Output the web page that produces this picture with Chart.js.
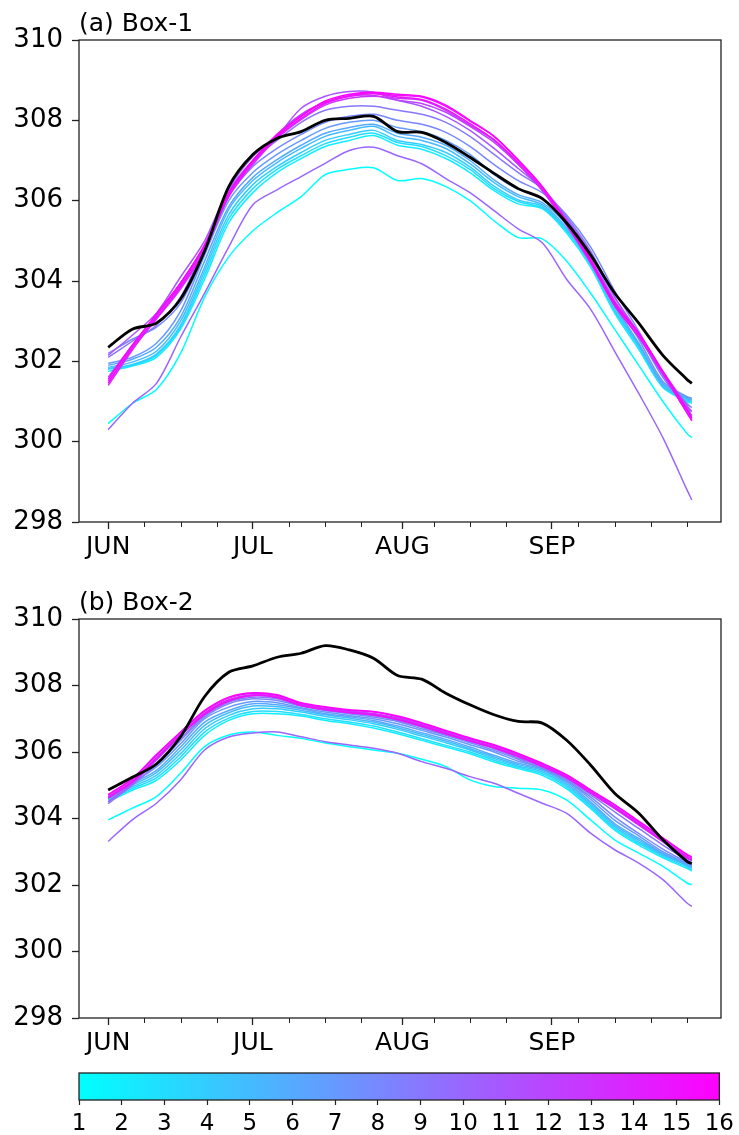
<!DOCTYPE html>
<html>
<head>
<meta charset="utf-8">
<script src="https://cdn.jsdelivr.net/npm/chart.js@4.4.1/dist/chart.umd.min.js"></script>
<style>
  html, body { margin: 0; padding: 0; background: #fff; }
  body { width: 739px; height: 1135px; position: relative; overflow: hidden; }
  canvas { position: absolute; left: 0; }
</style>
</head>
<body>
<canvas id="boxA" width="739" height="570" style="top:0px"></canvas>
<canvas id="boxB" width="739" height="487" style="top:579px"></canvas>
<canvas id="cbar" width="739" height="69" style="top:1066px"></canvas>
<script>
// 日付 (6/1 = 0)
const days = [0, 5, 10, 15, 20, 25, 30, 35, 40, 45, 50, 55, 60, 65, 70, 75, 80, 85, 90, 95, 100, 105, 110, 115, 120, 121];
const monthTickDays = [0, 30, 61, 92];
const monthLabels = ['JUN', 'JUL', 'AUG', 'SEP'];
const minorTickDays = [7.5, 15, 22.5, 37.5, 45, 52.5, 67.5, 75, 82.5, 97.5, 105, 112.5, 120];
const yTicks = [298, 300, 302, 304, 306, 308, 310];
const memberIds = [1, 2, 3, 4, 5, 6, 7, 8, 9, 10, 11, 12, 13, 14, 15, 16];

// (a) Box-1
const boxA_obs = [302.35, 302.8, 302.95, 303.55, 304.75, 306.35, 307.15, 307.55, 307.72, 308.0, 308.05, 308.1, 307.72, 307.7, 307.45, 307.08, 306.68, 306.3, 306.05, 305.45, 304.65, 303.7, 302.95, 302.15, 301.55, 301.45];
const boxA_m01 = [300.45, 300.95, 301.3, 302.2, 303.6, 304.6, 305.25, 305.7, 306.1, 306.65, 306.78, 306.82, 306.5, 306.55, 306.35, 306.0, 305.5, 305.08, 305.05, 304.5, 303.7, 302.8, 301.9, 301.0, 300.2, 300.1];
const boxA_m02 = [301.75, 301.88, 302.1, 302.8, 304.05, 305.45, 306.2, 306.7, 307.05, 307.35, 307.5, 307.62, 307.38, 307.28, 307.05, 306.7, 306.25, 305.92, 305.8, 305.2, 304.35, 303.2, 302.3, 301.35, 301.0, 300.95];
const boxA_m03 = [301.8, 301.9, 302.15, 302.85, 304.15, 305.55, 306.3, 306.78, 307.12, 307.42, 307.58, 307.68, 307.45, 307.35, 307.12, 306.78, 306.3, 305.98, 305.82, 305.25, 304.4, 303.25, 302.35, 301.38, 301.02, 300.98];
const boxA_m04 = [301.82, 301.92, 302.18, 302.9, 304.25, 305.65, 306.4, 306.85, 307.2, 307.5, 307.65, 307.75, 307.5, 307.4, 307.2, 306.84, 306.36, 306.02, 305.86, 305.28, 304.42, 303.28, 302.38, 301.42, 301.05, 301.0];
const boxA_m05 = [301.85, 301.98, 302.25, 303.0, 304.35, 305.78, 306.5, 306.95, 307.3, 307.6, 307.75, 307.85, 307.6, 307.5, 307.3, 306.92, 306.45, 306.1, 305.9, 305.33, 304.5, 303.35, 302.42, 301.38, 301.08, 301.03];
const boxA_m06 = [301.9, 302.05, 302.35, 303.1, 304.5, 305.85, 306.58, 307.02, 307.38, 307.68, 307.82, 307.9, 307.68, 307.58, 307.38, 307.0, 306.52, 306.15, 305.95, 305.4, 304.55, 303.4, 302.45, 301.45, 301.1, 301.05];
const boxA_m07 = [301.95, 302.1, 302.45, 303.25, 304.65, 306.0, 306.7, 307.15, 307.5, 307.8, 307.95, 308.0, 307.82, 307.72, 307.5, 307.15, 306.65, 306.28, 306.05, 305.5, 304.65, 303.5, 302.55, 301.5, 301.12, 301.08];
const boxA_m08 = [302.2, 302.55, 302.85, 303.45, 304.7, 306.1, 306.85, 307.3, 307.65, 307.95, 308.1, 308.15, 308.0, 307.9, 307.7, 307.35, 306.9, 306.5, 306.2, 305.65, 304.85, 303.75, 302.75, 301.65, 300.95, 300.85];
const boxA_m09 = [302.1, 302.5, 302.9, 303.6, 304.85, 306.25, 307.0, 307.5, 307.95, 308.25, 308.35, 308.35, 308.25, 308.15, 307.95, 307.6, 307.15, 306.7, 306.3, 305.6, 304.75, 303.6, 302.65, 301.6, 300.85, 300.75];
const boxA_m10 = [300.3, 300.95, 301.45, 302.6, 303.7, 304.85, 305.9, 306.27, 306.6, 306.93, 307.25, 307.33, 307.12, 306.92, 306.55, 306.2, 305.75, 305.3, 304.95, 304.05, 303.3, 302.25, 301.2, 300.1, 298.8, 298.55];
const boxA_m11 = [302.15, 302.65, 303.2, 304.1, 305.0, 306.3, 307.1, 307.6, 308.3, 308.6, 308.72, 308.7, 308.5, 308.35, 308.1, 307.75, 307.3, 306.8, 306.3, 305.55, 304.7, 303.6, 302.7, 301.75, 300.9, 300.75];
const boxA_m12 = [301.6, 302.4, 303.15, 303.95, 304.9, 306.2, 307.0, 307.65, 308.15, 308.45, 308.6, 308.62, 308.5, 308.42, 308.2, 307.85, 307.45, 306.9, 306.25, 305.45, 304.55, 303.5, 302.7, 301.75, 300.85, 300.65];
const boxA_m13 = [301.5, 302.3, 303.05, 303.8, 304.75, 306.1, 306.9, 307.55, 308.02, 308.38, 308.55, 308.6, 308.55, 308.5, 308.25, 307.88, 307.5, 306.92, 306.25, 305.4, 304.45, 303.38, 302.6, 301.68, 300.72, 300.55];
const boxA_m14 = [301.4, 302.28, 303.12, 303.9, 304.85, 306.18, 307.0, 307.65, 308.12, 308.45, 308.62, 308.68, 308.62, 308.58, 308.35, 307.98, 307.6, 307.02, 306.35, 305.5, 304.55, 303.45, 302.68, 301.72, 300.78, 300.58];
const boxA_m15 = [301.45, 302.35, 303.08, 303.85, 304.78, 306.12, 306.95, 307.58, 308.05, 308.42, 308.6, 308.66, 308.58, 308.52, 308.28, 307.92, 307.52, 306.95, 306.3, 305.42, 304.48, 303.4, 302.62, 301.7, 300.72, 300.52];
const boxA_m16 = [301.55, 302.4, 303.18, 303.95, 304.9, 306.2, 307.0, 307.62, 308.1, 308.48, 308.65, 308.7, 308.65, 308.6, 308.38, 308.0, 307.6, 307.0, 306.35, 305.48, 304.52, 303.45, 302.7, 301.75, 300.8, 300.6];

// (b) Box-2
const boxB_obs = [304.86, 305.24, 305.64, 306.46, 307.67, 308.4, 308.59, 308.85, 308.97, 309.2, 309.07, 308.82, 308.3, 308.19, 307.77, 307.42, 307.12, 306.92, 306.87, 306.36, 305.61, 304.76, 304.16, 303.36, 302.71, 302.64];
const boxB_m01 = [303.96, 304.31, 304.66, 305.36, 306.16, 306.51, 306.6, 306.5, 306.41, 306.27, 306.16, 306.06, 305.96, 305.78, 305.56, 305.16, 304.96, 304.91, 304.86, 304.56, 303.96, 303.36, 302.96, 302.56, 302.06, 302.01];
const boxB_m02 = [304.5, 304.85, 305.15, 305.75, 306.5, 306.95, 307.15, 307.15, 307.08, 306.95, 306.85, 306.72, 306.55, 306.35, 306.15, 305.95, 305.7, 305.5, 305.3, 304.9, 304.3, 303.65, 303.2, 302.82, 302.5, 302.42];
const boxB_m03 = [304.55, 304.9, 305.22, 305.85, 306.6, 307.02, 307.22, 307.22, 307.13, 307.0, 306.9, 306.78, 306.6, 306.4, 306.2, 306.0, 305.75, 305.54, 305.35, 304.95, 304.35, 303.7, 303.25, 302.86, 302.54, 302.46];
const boxB_m04 = [304.58, 304.95, 305.3, 305.95, 306.7, 307.1, 307.3, 307.3, 307.2, 307.07, 306.97, 306.85, 306.68, 306.48, 306.28, 306.06, 305.8, 305.58, 305.4, 305.0, 304.4, 303.75, 303.3, 302.9, 302.58, 302.5];
const boxB_m05 = [304.6, 305.0, 305.38, 306.05, 306.8, 307.18, 307.38, 307.36, 307.25, 307.12, 307.02, 306.9, 306.73, 306.53, 306.33, 306.1, 305.85, 305.62, 305.45, 305.05, 304.45, 303.8, 303.35, 302.92, 302.6, 302.52];
const boxB_m06 = [304.62, 305.05, 305.45, 306.15, 306.9, 307.25, 307.45, 307.42, 307.3, 307.15, 307.06, 306.95, 306.78, 306.58, 306.38, 306.15, 305.9, 305.66, 305.48, 305.1, 304.5, 303.85, 303.4, 302.95, 302.62, 302.55];
const boxB_m07 = [304.65, 305.08, 305.55, 306.25, 307.0, 307.35, 307.52, 307.48, 307.33, 307.2, 307.1, 307.0, 306.85, 306.65, 306.45, 306.22, 306.0, 305.72, 305.52, 305.15, 304.58, 303.95, 303.48, 303.0, 302.65, 302.58];
const boxB_m08 = [304.6, 305.05, 305.6, 306.35, 307.05, 307.45, 307.6, 307.55, 307.38, 307.25, 307.15, 307.05, 306.92, 306.7, 306.5, 306.28, 306.05, 305.78, 305.5, 305.15, 304.65, 304.05, 303.55, 303.08, 302.68, 302.6];
const boxB_m09 = [304.45, 305.0, 305.65, 306.4, 307.1, 307.5, 307.65, 307.6, 307.4, 307.28, 307.18, 307.1, 306.95, 306.75, 306.52, 306.32, 306.1, 305.82, 305.55, 305.2, 304.72, 304.2, 303.7, 303.2, 302.75, 302.68];
const boxB_m10 = [303.31, 303.96, 304.46, 305.16, 306.06, 306.45, 306.57, 306.6, 306.46, 306.31, 306.21, 306.11, 305.96, 305.71, 305.51, 305.26, 305.06, 304.76, 304.46, 304.16, 303.56, 303.06, 302.66, 302.16, 301.46, 301.36];
const boxB_m11 = [304.5, 305.05, 305.75, 306.5, 307.15, 307.55, 307.7, 307.65, 307.45, 307.3, 307.22, 307.15, 307.02, 306.82, 306.6, 306.4, 306.2, 305.92, 305.62, 305.3, 304.85, 304.35, 303.85, 303.35, 302.85, 302.78];
const boxB_m12 = [304.62, 305.1, 305.8, 306.5, 307.12, 307.52, 307.7, 307.64, 307.4, 307.26, 307.18, 307.1, 306.98, 306.76, 306.55, 306.33, 306.12, 305.86, 305.56, 305.22, 304.76, 304.3, 303.8, 303.3, 302.8, 302.73];
const boxB_m13 = [304.66, 305.13, 305.84, 306.53, 307.17, 307.57, 307.72, 307.67, 307.42, 307.3, 307.21, 307.15, 307.01, 306.8, 306.57, 306.36, 306.16, 305.9, 305.6, 305.26, 304.8, 304.35, 303.85, 303.35, 302.85, 302.78];
const boxB_m14 = [304.7, 305.18, 305.9, 306.58, 307.22, 307.62, 307.76, 307.7, 307.46, 307.34, 307.25, 307.2, 307.06, 306.85, 306.62, 306.4, 306.2, 305.94, 305.64, 305.3, 304.84, 304.4, 303.9, 303.4, 302.9, 302.82];
const boxB_m15 = [304.62, 305.1, 305.8, 306.5, 307.14, 307.55, 307.7, 307.64, 307.4, 307.28, 307.19, 307.12, 306.98, 306.78, 306.55, 306.33, 306.13, 305.87, 305.57, 305.24, 304.78, 304.32, 303.82, 303.32, 302.82, 302.75];
const boxB_m16 = [304.72, 305.2, 305.92, 306.6, 307.25, 307.65, 307.78, 307.72, 307.48, 307.36, 307.27, 307.22, 307.08, 306.88, 306.65, 306.42, 306.22, 305.96, 305.66, 305.32, 304.86, 304.42, 303.92, 303.42, 302.92, 302.84];

const boxA_members = [boxA_m01, boxA_m02, boxA_m03, boxA_m04, boxA_m05, boxA_m06, boxA_m07, boxA_m08,
                      boxA_m09, boxA_m10, boxA_m11, boxA_m12, boxA_m13, boxA_m14, boxA_m15, boxA_m16];
const boxB_members = [boxB_m01, boxB_m02, boxB_m03, boxB_m04, boxB_m05, boxB_m06, boxB_m07, boxB_m08,
                      boxB_m09, boxB_m10, boxB_m11, boxB_m12, boxB_m13, boxB_m14, boxB_m15, boxB_m16];

const FONT = 'DejaVu Sans';
const AXIS_COLOR = '#222';

// matplotlib "cool" カラーマップ
function coolColor(id) {
    const t = (id - 1) / 15;
    return 'rgb(' + Math.round(255 * t) + ',' + Math.round(255 * (1 - t)) + ',255)';
}

function toPoints(values) {
    return days.map((d, i) => ({ x: d, y: values[i] }));
}

// 枠線 (matplotlib 風に四辺)
const frameBox = {
    id: 'frameBox',
    afterDraw(chart) {
        const a = chart.chartArea, ctx = chart.ctx;
        ctx.save();
        ctx.strokeStyle = AXIS_COLOR;
        ctx.lineWidth = 1.3;
        ctx.strokeRect(a.left, a.top, a.right - a.left, a.bottom - a.top);
        ctx.restore();
    }
};

// 補助目盛り (短い)
const minorTicks = {
    id: 'minorTicks',
    afterDraw(chart) {
        const xs = chart.scales.x, ctx = chart.ctx;
        ctx.save();
        ctx.strokeStyle = AXIS_COLOR;
        ctx.lineWidth = 1;
        minorTickDays.forEach(d => {
            const px = Math.round(xs.getPixelForValue(d)) + 0.5;
            ctx.beginPath();
            ctx.moveTo(px, xs.top);
            ctx.lineTo(px, xs.top + 5);
            ctx.stroke();
        });
        ctx.restore();
    }
};

function makePanel(canvasId, titleText, obs, members) {
    const datasets = members.map((vals, i) => ({
        label: 'member ' + memberIds[i],
        data: toPoints(vals),
        borderColor: coolColor(memberIds[i]),
        borderWidth: 1.5,
        order: 20 - memberIds[i]
    }));
    datasets.push({
        label: 'OBS',
        data: toPoints(obs),
        borderColor: '#000',
        borderWidth: 2.8,
        order: 0
    });

    new Chart(document.getElementById(canvasId).getContext('2d'), {
        type: 'line',
        data: { datasets },
        options: {
            responsive: false,
            animation: false,
            devicePixelRatio: 1,
            layout: { padding: { left: 0, right: 18, top: 0, bottom: 0 } },
            elements: {
                point: { radius: 0 },
                line: { tension: 0.3, fill: false }
            },
            scales: {
                x: {
                    type: 'linear',
                    min: -6.05,
                    max: 127.05,
                    afterBuildTicks: s => { s.ticks = monthTickDays.map(v => ({ value: v })); },
                    afterFit: s => { s.height = 48; },
                    border: { display: false },
                    grid: { drawOnChartArea: false, tickLength: 7, tickColor: AXIS_COLOR, tickWidth: 1.3 },
                    ticks: {
                        autoSkip: false,
                        maxRotation: 0,
                        padding: 3,
                        color: '#000',
                        font: { family: FONT, size: 25 },
                        callback: v => monthLabels[monthTickDays.indexOf(v)] || ''
                    }
                },
                y: {
                    min: 298,
                    max: 310,
                    afterBuildTicks: s => { s.ticks = yTicks.map(v => ({ value: v })); },
                    afterFit: s => { s.width = 79; },
                    border: { display: false },
                    grid: { drawOnChartArea: false, tickLength: 7, tickColor: AXIS_COLOR, tickWidth: 1.3 },
                    ticks: {
                        padding: 9,
                        color: '#000',
                        font: { family: FONT, size: 26 }
                    }
                }
            },
            plugins: {
                legend: { display: false },
                tooltip: { enabled: false },
                title: {
                    display: true,
                    text: titleText,
                    align: 'start',
                    fullSize: false,
                    color: '#000',
                    font: { family: FONT, size: 25, weight: 'normal' },
                    padding: { top: 9, bottom: 1 }
                }
            }
        },
        plugins: [frameBox, minorTicks]
    });
}

makePanel('boxA', '(a) Box-1', boxA_obs, boxA_members);
makePanel('boxB', '(b) Box-2', boxB_obs, boxB_members);

// カラーバー
const colorbarFill = {
    id: 'colorbarFill',
    beforeDraw(chart) {
        const a = chart.chartArea, ctx = chart.ctx, xs = chart.scales.x;
        const g = ctx.createLinearGradient(xs.getPixelForValue(memberIds[0]), 0,
                                           xs.getPixelForValue(memberIds[memberIds.length - 1]), 0);
        g.addColorStop(0, coolColor(memberIds[0]));
        g.addColorStop(1, coolColor(memberIds[memberIds.length - 1]));
        ctx.save();
        ctx.fillStyle = g;
        ctx.fillRect(a.left, a.top, a.right - a.left, a.bottom - a.top);
        ctx.restore();
    }
};

new Chart(document.getElementById('cbar').getContext('2d'), {
    type: 'scatter',
    data: { datasets: [] },
    options: {
        responsive: false,
        animation: false,
        devicePixelRatio: 1,
        layout: { padding: { left: 79, right: 18, top: 7, bottom: 0 } },
        scales: {
            x: {
                type: 'linear',
                min: 1,
                max: 16,
                afterBuildTicks: s => { s.ticks = memberIds.map(v => ({ value: v })); },
                afterFit: s => { s.height = 35; },
                border: { display: false },
                grid: { drawOnChartArea: false, tickLength: 5, tickColor: AXIS_COLOR, tickWidth: 1.2 },
                ticks: {
                    autoSkip: false,
                    maxRotation: 0,
                    padding: 5,
                    color: '#000',
                    font: { family: FONT, size: 23 }
                }
            },
            y: { display: false, min: 0, max: 1 }
        },
        plugins: { legend: { display: false }, tooltip: { enabled: false } }
    },
    plugins: [colorbarFill, frameBox]
});
</script>
</body>
</html>
